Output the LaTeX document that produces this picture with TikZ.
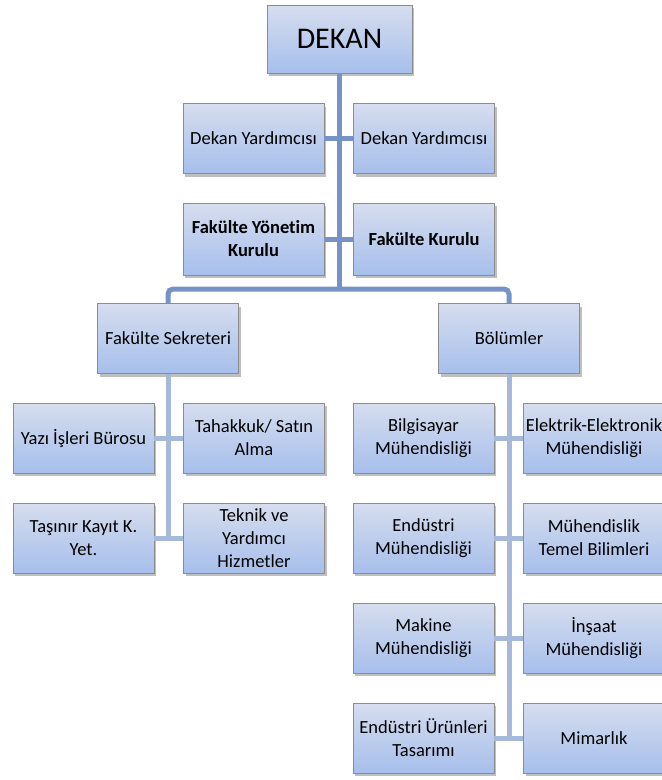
\documentclass[tikz,border=0pt]{standalone}
\usepackage{fontspec}
\setmainfont[Ligatures=NoCommon]{Carlito}
\usetikzlibrary{shadows}
\definecolor{boxtop}{RGB}{214,221,238}
\definecolor{boxbot}{RGB}{166,191,236}
\definecolor{boxline}{RGB}{140,140,140}
\definecolor{linkA}{RGB}{118,146,198}
\definecolor{linkB}{RGB}{166,185,218}
\tikzset{
  orgbox/.style={draw=boxline, line width=0.8pt, top color=boxtop, bottom color=boxbot,
    minimum width=141pt, minimum height=70pt, inner sep=1pt, align=center,
    font=\fontsize{18.5}{23}\selectfont,
    drop shadow={shadow xshift=2pt, shadow yshift=-3pt, fill=black, opacity=0.25}},
  boldbox/.style={orgbox, minimum height=72pt, font=\fontsize{18.5}{23}\selectfont\bfseries},
  toplink/.style={draw=linkA, line width=5pt},
  sublink/.style={draw=linkB, line width=5pt}
}
\begin{document}
\begin{tikzpicture}[x=1pt,y=-1pt]
\useasboundingbox (0,0) rectangle (662,780);
% nodes
\node[orgbox, minimum width=145pt, minimum height=68pt, font=\fontsize{30}{36}\selectfont] (dekan) at (339.5,39) {DEKAN};
\node[orgbox] (dy1) at (253.5,138.5) {Dekan Yardımcısı};
\node[orgbox] (dy2) at (424,138.5) {Dekan Yardımcısı};
\node[boldbox] (fyk) at (253.5,239) {Fakülte Yönetim\\Kurulu};
\node[boldbox] (fk) at (424,239) {Fakülte Kurulu};
\node[orgbox] (fs) at (168,338.5) {Fakülte Sekreteri};
\node[orgbox] (bol) at (509,338.5) {Bölümler};
\node[orgbox] (yib) at (83.5,438) {Yazı İşleri Bürosu};
\node[orgbox] (tah) at (254,438) {Tahakkuk/ Satın\\Alma};
\node[orgbox] (tas) at (83.5,538) {Taşınır Kayıt K.\\Yet.};
\node[orgbox] (tek) at (254,538) {Teknik ve\\Yardımcı\\Hizmetler};
\node[orgbox] (bil) at (423.5,438) {Bilgisayar\\Mühendisliği};
\node[orgbox] (ele) at (594,438) {Elektrik-Elektronik\\Mühendisliği};
\node[orgbox] (end) at (423.5,538) {Endüstri\\Mühendisliği};
\node[orgbox] (mtb) at (594,538) {Mühendislik\\Temel Bilimleri};
\node[orgbox] (mak) at (423.5,638) {Makine\\Mühendisliği};
\node[orgbox] (ins) at (594,638) {İnşaat\\Mühendisliği};
\node[orgbox] (eut) at (423.5,738) {Endüstri Ürünleri\\Tasarımı};
\node[orgbox] (mim) at (594,738) {Mimarlık};
% coordinates
\coordinate (split) at (339.5,289);
\coordinate (lend) at (168,537);
\coordinate (rend) at (509,737);
% connectors
\draw[toplink] (dekan.south) -- (split);
\draw[toplink] (dy1.east) -- (dy2.west);
\draw[toplink] (fyk.east) -- (fk.west);
\draw[toplink, rounded corners=5pt] (fs.north) -- (fs.north |- split) -- (bol.north |- split) -- (bol.north);
\draw[sublink] (fs.south) -- (lend);
\draw[sublink] (yib.east) -- (tah.west);
\draw[sublink] (tas.east) -- (tek.west);
\draw[sublink] (bol.south) -- (rend);
\draw[sublink] (bil.east) -- (ele.west);
\draw[sublink] (end.east) -- (mtb.west);
\draw[sublink] (mak.east) -- (ins.west);
\draw[sublink] (eut.east) -- (mim.west);
\end{tikzpicture}
\end{document}
